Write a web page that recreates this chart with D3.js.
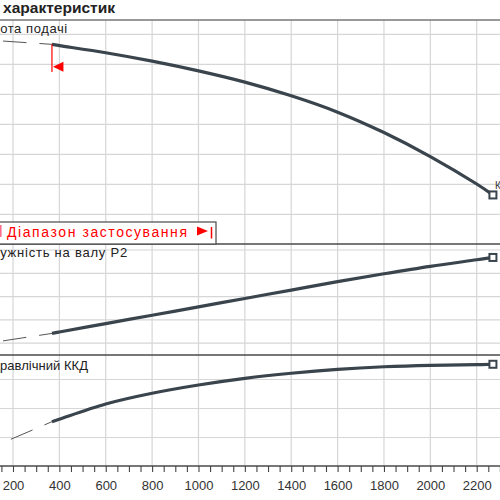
<html>
<head>
<style>
  body { margin: 0; background: #fff; }
  text { font-family: "Liberation Sans", Arial, sans-serif; }
</style>
</head>
<body>
<svg id="chart" width="500" height="500"></svg>
<script src="https://cdn.jsdelivr.net/npm/d3@7"></script>
<script>
let flow = [368, 400, 600, 800, 1000, 1200, 1400, 1600, 1800, 2000, 2200, 2270]
let head = [13.33, 13.25, 12.77, 12.21, 11.56, 10.81, 9.90, 8.81, 7.45, 5.85, 4.02, 3.29]
let power = [0.221, 0.224, 0.242, 0.260, 0.278, 0.296, 0.314, 0.332, 0.349, 0.365, 0.379, 0.384]
let effic = [30.9, 32.6, 43.1, 50.5, 56.2, 60.8, 64.3, 67.0, 68.8, 69.8, 70.2, 70.5]

// thin dashed run-in left of the working range
let headDash = [[157, 13.55], [368, 13.33]]
let powerDash = [[157, 0.205], [368, 0.221]]
let efficDash = [[191, 18.8], [368, 30.9]]

let xLabels = [200, 400, 600, 800, 1000, 1200, 1400, 1600, 1800, 2000, 2200]
let headGrid = [2, 4, 6, 8, 10, 12, 14]
let powerGrid = [0.20, 0.25, 0.30, 0.35, 0.40]
let efficGrid = [20, 40, 60]

let W = 500
let lineColor = "#3a444d"
let gridColor = "#d6d6d6"
let frameColor = "#4a4a4a"

let svg = d3.select("#chart")

let x = d3.scaleLinear().domain([200, 2200]).range([13, 476.7])
let yHead = d3.scaleLinear().domain([0, 14]).range([244.3, 34.3])
let yPower = d3.scaleLinear().domain([0.20, 0.40]).range([343.2, 250])
let yEffic = d3.scaleLinear().domain([0, 60]).range([466.5, 379.5])

function measure(str, size, weight) {
    let t = svg.append("text")
        .attr("font-size", size)
        .attr("font-weight", weight || "normal")
        .text(str)
    let w = t.node().getComputedTextLength()
    t.remove()
    return w
}

let grid = svg.append("g")

// vertical grid
grid.selectAll(".vg")
    .data(xLabels)
    .enter()
    .append("line")
    .attr("x1", d => x(d)).attr("x2", d => x(d))
    .attr("y1", 20).attr("y2", 466)
    .attr("stroke", gridColor)
    .attr("stroke-width", 1.2)

// horizontal grid per panel
let hLines = headGrid.map(d => yHead(d))
    .concat(powerGrid.map(d => yPower(d)))
    .concat(efficGrid.map(d => yEffic(d)))
grid.selectAll(".hg")
    .data(hLines)
    .enter()
    .append("line")
    .attr("x1", 0).attr("x2", W)
    .attr("y1", d => d).attr("y2", d => d)
    .attr("stroke", gridColor)
    .attr("stroke-width", 1.2)

// title (its start is cut off by the picture edge) + its rule
let titleSize = 14
let titleHidden = "Криві"
let ttl = svg.append("text")
    .attr("x", 3 - measure(titleHidden + " x", titleSize, "bold") + measure("x", titleSize, "bold"))
    .attr("y", 13)
    .attr("font-size", titleSize)
    .attr("font-weight", "bold")
    .attr("fill", "#222")
ttl.append("tspan").text(titleHidden + " ")
ttl.append("tspan")
    .attr("textLength", 112)
    .attr("lengthAdjust", "spacingAndGlyphs")
    .text("характеристик")
svg.append("line")
    .attr("x1", 0).attr("x2", W).attr("y1", 20).attr("y2", 20)
    .attr("stroke", "#777").attr("stroke-width", 1.3)

// panel frames
;[244, 355, 466].forEach(y => {
    svg.append("line")
        .attr("x1", 0).attr("x2", W).attr("y1", y).attr("y2", y)
        .attr("stroke", frameColor).attr("stroke-width", 1.3)
})

// x axis: minor ticks every 50, labels every 200
let minor = d3.range(0, 2401, 50)
let axis = d3.axisBottom(x)
    .tickValues(minor)
    .tickSize(6)
    .tickPadding(9)
    .tickFormat(d => (d % 200 == 0 && d >= 200 && d <= 2200) ? d : "")
let ax = svg.append("g")
    .attr("transform", "translate(0,466)")
    .call(axis)
ax.select(".domain").remove()
ax.selectAll("line").attr("stroke", "#444").attr("stroke-width", 1.1)
ax.selectAll("text")
    .attr("font-size", 13)
    .attr("font-family", "Liberation Sans, Arial, sans-serif")
    .attr("fill", "#333")

// curves
function drawCurve(vals, yScale, dash) {
    let pts = flow.map((q, i) => [q, vals[i]])
    let line = d3.line()
        .x(d => x(d[0]))
        .y(d => yScale(d[1]))
        .curve(d3.curveCatmullRom)
    svg.append("path")
        .attr("d", d3.line().x(d => x(d[0])).y(d => yScale(d[1]))(dash))
        .attr("fill", "none")
        .attr("stroke", "#555")
        .attr("stroke-width", 1)
        .attr("stroke-dasharray", "23.5,13")
    svg.append("path")
        .attr("d", line(pts))
        .attr("fill", "none")
        .attr("stroke", lineColor)
        .attr("stroke-width", 3.2)
    let last = pts[pts.length - 1]
    svg.append("rect")
        .attr("x", x(last[0]) - 3.5)
        .attr("y", yScale(last[1]) - 3.5)
        .attr("width", 7).attr("height", 7)
        .attr("fill", "#fff")
        .attr("stroke", lineColor)
        .attr("stroke-width", 2)
}
drawCurve(head, yHead, headDash)
drawCurve(power, yPower, powerDash)
drawCurve(effic, yEffic, efficDash)

// duty point label at head curve end
svg.append("text")
    .attr("x", x(flow[flow.length - 1]) + 2)
    .attr("y", yHead(head[head.length - 1]) - 6)
    .attr("font-size", 10)
    .attr("fill", "#333")
    .text("К")

// start of the operating range marker
let qStart = flow[0]
svg.append("line")
    .attr("x1", x(qStart)).attr("x2", x(qStart))
    .attr("y1", yHead(head[0])).attr("y2", 72)
    .attr("stroke", "#ff0000").attr("stroke-width", 1.2)
svg.append("path")
    .attr("d", d3.line()([[x(qStart) + 1, 66.7], [x(qStart) + 11.5, 61.7], [x(qStart) + 11.5, 71.7]]) + "Z")
    .attr("fill", "#ff0000")

// panel labels, cut by the left edge; the shown part stretched to the reference width
function cutLabel(hidden, shown, y, shownWidth) {
    let w = measure(hidden, 13)
    let t = svg.append("text")
        .attr("x", -w)
        .attr("y", y)
        .attr("font-size", 13)
        .attr("fill", "#222")
    t.append("tspan").text(hidden)
    t.append("tspan")
        .attr("textLength", shownWidth)
        .attr("lengthAdjust", "spacing")
        .text(shown)
}
cutLabel("Вис", "ота подачі", 33, 67)
cutLabel("Пот", "ужність на валу  P2", 256.5, 127)
cutLabel("Гід", "равлічний ККД", 369.5, 88)

// operating range legend box
svg.append("rect")
    .attr("x", -5).attr("y", 222)
    .attr("width", 221).attr("height", 22)
    .attr("fill", "#fff")
    .attr("stroke", frameColor)
    .attr("stroke-width", 1.2)
svg.append("line")
    .attr("x1", 0.8).attr("x2", 0.8).attr("y1", 225).attr("y2", 237)
    .attr("stroke", "#ff6688").attr("stroke-width", 1.5)
svg.append("text")
    .attr("x", 7).attr("y", 237)
    .attr("font-size", 14)
    .attr("textLength", 180)
    .attr("lengthAdjust", "spacing")
    .attr("fill", "#ff0000")
    .text("Діапазон застосування")
svg.append("path")
    .attr("d", d3.line()([[197, 226.5], [208, 231], [197, 235.5]]) + "Z")
    .attr("fill", "#ff0000")
svg.append("line")
    .attr("x1", 211.5).attr("x2", 211.5).attr("y1", 227).attr("y2", 238.5)
    .attr("stroke", "#ff0000").attr("stroke-width", 1.5)
</script>
</body>
</html>
